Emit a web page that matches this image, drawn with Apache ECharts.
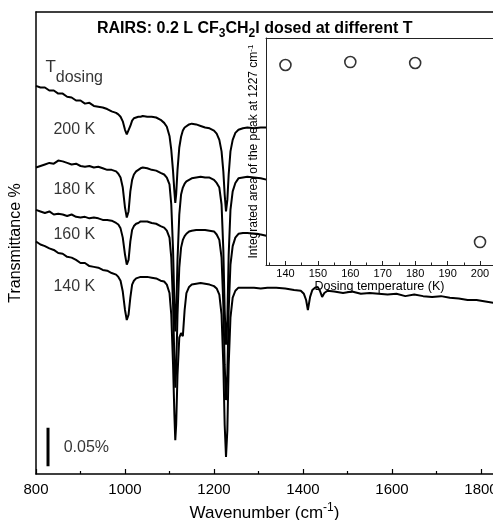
<!DOCTYPE html>
<html><head><meta charset="utf-8">
<script src="https://cdn.jsdelivr.net/npm/echarts@6/dist/echarts.min.js"></script>
<style>html,body{margin:0;padding:0;background:#fff}#c{width:493px;height:520px}</style>
</head><body><div id="c"></div>
<script>
// wavenumber grid (cm^-1)
const wavenumber = [800,810,820,830,840,850,860,870,880,890,900,910,920,930,940,950,960,970,980,
985,990,995,1000,1004,1008,1012,1016,1020,1025,1030,1035,
1040,1050,1060,1070,1080,
1088,1094,1100,1104,1108,1111,1113,1115,1118,1122,1126,1130,1134,1138,1144,1150,
1160,1170,1180,1190,1200,
1206,1212,1217,1221,1224,1227,1230,1233,1237,1242,1248,1255,
1265,1275,1290,1305,1320,
1340,1360,1380,1395,1402,1407,1411,1413,1416,1421,1427,1433,1438,1443,1448,1455,1470,1490,1510,1530,1550,1570,1590,1610,1630,1650,1670,1690,1710,1730,1750,1770,1790,1810,1830];

// transmittance (offset traces, units of 0.001 %)
const t200 = [504,502,502,498,498,494,494,490,489,485,485,481,482,478,477,476,474,471,469,
467,464,458,447,441,443,452,459,462,463,464,464,
465,464,464,463,460,
456,451,439,421,393,367,352,363,395,424,438,446,450,452,454,455,
454,452,450,449,446,
442,434,419,393,363,341,356,389,419,434,443,447,
449,450,449,450,450];
const t180 = [398,400,402,404,403,407,406,404,402,403,400,399,400,398,399,397,395,395,393,
390,385,372,346,333,341,367,382,389,393,395,397,
398,397,395,394,391,
389,385,376,350,291,220,185,207,278,337,363,372,377,380,382,384,
385,386,385,385,382,
378,372,350,291,213,168,200,285,343,367,378,384,
385,386,385,384,382];
const t160 = [343,341,339,341,337,338,337,335,337,334,333,334,332,333,332,330,330,329,326,
324,319,307,285,272,278,302,317,322,325,326,328,
328,328,326,325,322,
320,316,307,281,220,148,112,135,207,268,294,304,309,312,315,316,
317,317,317,316,315,
311,304,281,220,142,96,129,213,272,296,307,312,
313,313,312,311,309];
const t140 = [302,298,296,293,291,287,286,282,281,278,274,274,270,269,268,265,264,261,259,
256,251,237,213,200,207,229,246,251,254,255,256,
256,256,255,254,251,
250,246,235,207,142,77,44,64,129,177,183,179,213,235,243,246,
247,248,247,246,244,
241,233,207,142,64,22,57,142,203,229,238,242,
242,242,242,241,242,
242,241,239,238,234,226,213,215,230,239,242,243,238,230,235,238,237,235,237,234,
235,234,233,234,231,233,231,230,231,229,228,226,226,224,222];

// inset data
const dosingTemp = [140,160,180,200];
const peakArea = [0.881,0.894,0.890,0.101];

// axis ticks
const mainMajor = [800,1000,1200,1400,1600,1800];
const mainMinor = [900,1100,1300,1500,1700];
const insetMajor = [140,150,160,170,180,190,200];
const insetMinor = [135,145,155,165,175,185,195];

// annotations (data coordinates)
const annotations = [
  {text:'{t|T}{d|dosing}', wn:820, v:522},
  {text:'200 K', wn:838, v:447},
  {text:'180 K', wn:838, v:369},
  {text:'160 K', wn:838, v:311},
  {text:'140 K', wn:838, v:244},
  {text:'0.05%', wn:861, v:34}
];
const scaleBar = {wn:827, from:10, to:60};

const FF = 'Liberation Sans, Arial, sans-serif';
const pairs = vals => vals.map((v,i)=>[wavenumber[i], v]);
const traceStyle = {color:'#000', width:2};
const plain = v => String(v);

const chart = echarts.init(document.getElementById('c'), null, {renderer:'canvas'});
const mainRange = {min:800, max:1827};
const insetRange = {min:134, max:204};

chart.setOption({
  animation:false,
  backgroundColor:'#fff',
  title:{
    text:'RAIRS: 0.2 L CF{s|3}CH{s|2}I dosed at different T',
    left:92, top:13,
    textStyle:{fontFamily:FF, fontSize:16, fontWeight:'bold', color:'#000', lineHeight:22,
      rich:{s:{fontFamily:FF, fontSize:12, fontWeight:'bold', color:'#000', verticalAlign:'bottom', lineHeight:22}}}
  },
  grid:[
    {left:36, right:0, top:12, bottom:46, outerBoundsMode:'none', containLabel:false},
    {left:266, right:0, top:38, bottom:255, outerBoundsMode:'none', containLabel:false,
      show:true, backgroundColor:'#fff', borderWidth:0, z:10}
  ],
  xAxis:[
    {gridIndex:0, type:'value', position:'bottom', ...mainRange,
      axisLine:{lineStyle:{color:'#000', width:1.5}},
      axisTick:{inside:true, length:5, customValues:mainMajor, lineStyle:{color:'#000', width:1.2}},
      axisLabel:{customValues:mainMajor, formatter:plain, fontFamily:FF, fontSize:15, color:'#000', margin:8},
      splitLine:{show:false},
      name:'Wavenumber (cm{sup|-1})', nameLocation:'middle', nameGap:20,
      nameTextStyle:{fontFamily:FF, fontSize:17, color:'#000', verticalAlign:'top', lineHeight:22,
        rich:{sup:{fontFamily:FF, fontSize:12, color:'#000', verticalAlign:'top', lineHeight:22}}}},
    {gridIndex:0, type:'value', position:'bottom', ...mainRange,
      axisLine:{show:false},
      axisTick:{inside:true, length:3, customValues:mainMinor, lineStyle:{color:'#000', width:1.2}},
      axisLabel:{show:false}, splitLine:{show:false}},
    {gridIndex:0, type:'value', position:'top', ...mainRange,
      axisLine:{lineStyle:{color:'#000', width:1.5}},
      axisTick:{show:false}, axisLabel:{show:false}, splitLine:{show:false}},
    {gridIndex:1, type:'value', position:'bottom', ...insetRange, z:11,
      axisLine:{lineStyle:{color:'#222', width:1}},
      axisTick:{inside:true, length:4, customValues:insetMajor, lineStyle:{color:'#222', width:1}},
      axisLabel:{customValues:insetMajor, formatter:plain, fontFamily:FF, fontSize:11, color:'#000', margin:3},
      splitLine:{show:false},
      name:'Dosing temperature (K)', nameLocation:'middle', nameGap:12,
      nameTextStyle:{fontFamily:FF, fontSize:12.5, color:'#000', verticalAlign:'top'}},
    {gridIndex:1, type:'value', position:'bottom', ...insetRange, z:11,
      axisLine:{show:false},
      axisTick:{inside:true, length:2.5, customValues:insetMinor, lineStyle:{color:'#222', width:1}},
      axisLabel:{show:false}, splitLine:{show:false}},
    {gridIndex:1, type:'value', position:'top', ...insetRange, z:11,
      axisLine:{lineStyle:{color:'#222', width:1}},
      axisTick:{show:false}, axisLabel:{show:false}, splitLine:{show:false}}
  ],
  yAxis:[
    {gridIndex:0, type:'value', min:0, max:600,
      axisLine:{show:true, lineStyle:{color:'#000', width:1.5}},
      axisTick:{show:false}, axisLabel:{show:false}, splitLine:{show:false},
      name:'Transmittance %', nameLocation:'middle', nameGap:12,
      nameTextStyle:{fontFamily:FF, fontSize:16, color:'#000'}},
    {gridIndex:1, type:'value', min:0, max:1, z:11,
      axisLine:{show:true, lineStyle:{color:'#222', width:1}},
      axisTick:{show:false}, axisLabel:{show:false}, splitLine:{show:false},
      name:'Integrated area of the peak at 1227 cm{sup|-1}', nameLocation:'middle', nameGap:5,
      nameTextStyle:{fontFamily:FF, fontSize:12, color:'#000', lineHeight:14,
        rich:{sup:{fontFamily:FF, fontSize:8, color:'#000', verticalAlign:'top', lineHeight:14}}}}
  ],
  series:[
    {type:'line', xAxisIndex:0, yAxisIndex:0, data:pairs(t200), symbol:'none', lineStyle:traceStyle, z:2, silent:true},
    {type:'line', xAxisIndex:0, yAxisIndex:0, data:pairs(t180), symbol:'none', lineStyle:traceStyle, z:2, silent:true},
    {type:'line', xAxisIndex:0, yAxisIndex:0, data:pairs(t160), symbol:'none', lineStyle:traceStyle, z:2, silent:true},
    {type:'line', xAxisIndex:0, yAxisIndex:0, data:pairs(t140), symbol:'none', lineStyle:traceStyle, z:2, silent:true},
    {type:'line', xAxisIndex:0, yAxisIndex:0, data:[[scaleBar.wn, scaleBar.from],[scaleBar.wn, scaleBar.to]],
      symbol:'none', lineStyle:{color:'#000', width:3}, z:3, silent:true},
    {type:'scatter', xAxisIndex:0, yAxisIndex:0, symbol:'circle', symbolSize:1, z:3, silent:true,
      itemStyle:{color:'rgba(0,0,0,0)'},
      data:annotations.map(a=>({value:[a.wn, a.v], label:{formatter:a.text}})),
      label:{show:true, position:'right', distance:0, fontFamily:FF, fontSize:16, color:'#000',
        rich:{t:{fontFamily:FF, fontSize:17, color:'#000', verticalAlign:'top', lineHeight:27},
              d:{fontFamily:FF, fontSize:16, color:'#000', verticalAlign:'bottom', lineHeight:27}}}},
    {type:'scatter', xAxisIndex:3, yAxisIndex:1, z:12, silent:true,
      data:dosingTemp.map((t,i)=>[t, peakArea[i]]),
      symbol:'circle', symbolSize:11,
      itemStyle:{color:'#fff', borderColor:'#000', borderWidth:1.6}}
  ]
});
</script>
</body></html>
